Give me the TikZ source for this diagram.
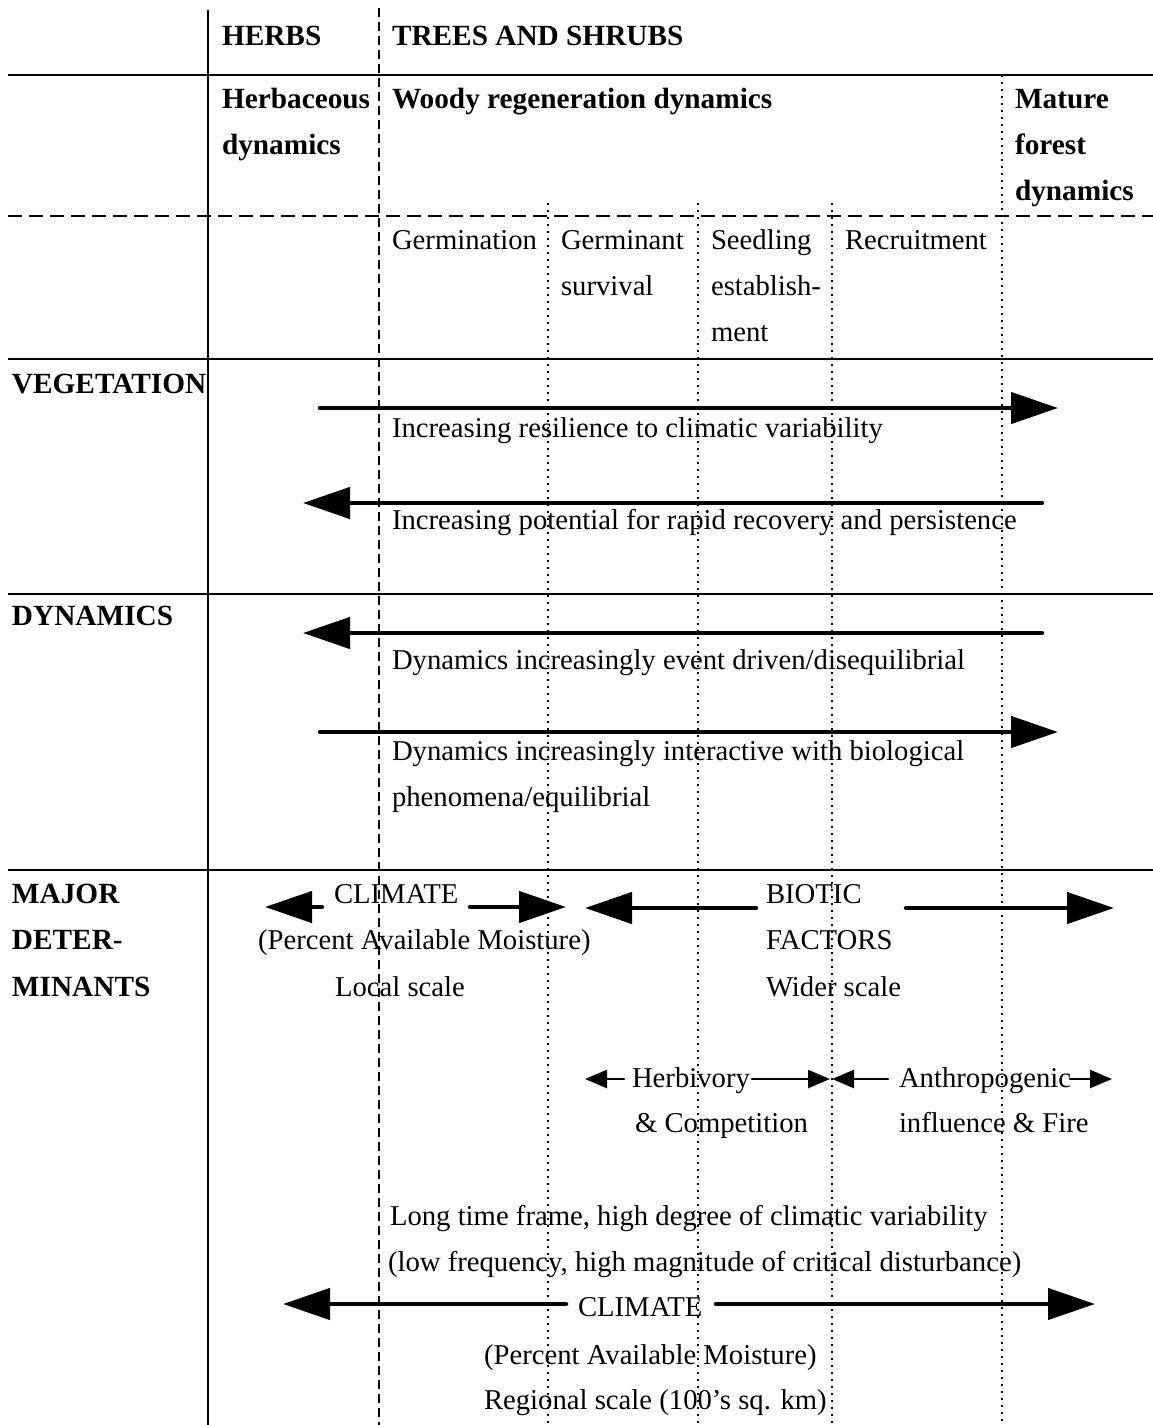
\documentclass[tikz,border=0pt]{standalone}
\usepackage{fontspec}
\setmainfont{Liberation Serif}
\usetikzlibrary{arrows.meta}
\begin{document}
\begin{tikzpicture}[x=1pt,y=-1pt,
  txt/.style={anchor=base west, inner sep=0pt, outer sep=0pt, font=\fontsize{28.7}{46}\selectfont},
  btxt/.style={txt, font=\fontsize{29.3}{46}\selectfont\bfseries},
  rule/.style={line width=2pt},
  dashrule/.style={line width=2pt, dash pattern=on 14pt off 7pt},
  colrule/.style={line width=1.8pt, dash pattern=on 9pt off 5pt},
  dotrule/.style={line width=2pt, dash pattern=on 2pt off 5pt},
  bigarrow/.style={line width=4.5pt, line cap=round, -{Triangle[length=47pt,width=31pt]}},
  smallarrow/.style={line width=2.5pt, line cap=round, -{Triangle[length=22pt,width=18pt]}},
]
\fill[white] (0,0) rectangle (1153,1425);
\useasboundingbox (0,0) rectangle (1153,1425);

% ---- table frame ----
\draw[rule] (208,10) -- (208,1425);
\draw[colrule] (379,8) -- (379,1425);
\draw[dotrule] (548,203) -- (548,1425);
\draw[dotrule] (698,203) -- (698,1425);
\draw[dotrule] (832,203) -- (832,1425);
\draw[dotrule] (1002,75) -- (1002,1425);
\draw[rule] (8,75) -- (1153,75);
\draw[dashrule] (8,216) -- (1153,216);
\draw[rule] (8,359) -- (1153,359);
\draw[rule] (8,594) -- (1153,594);
\draw[rule] (8,870) -- (1153,870);

% ---- headings ----
\node[btxt] (herbs) at (222,45) {HERBS};
\node[btxt] (trees) at (392,45) {TREES AND SHRUBS};
\node[btxt] (herbA) at (222,108) {Herbaceous};
\node[btxt] (herbB) at (222,154) {dynamics};
\node[btxt] (woody) at (392,108) {Woody regeneration dynamics};
\node[btxt] (matA) at (1015,108) {Mature};
\node[btxt] (matB) at (1015,154) {forest};
\node[btxt] (matC) at (1015,200) {dynamics};

\node[txt] (germ) at (392,249) {Germination};
\node[txt] (gsA) at (561,249) {Germinant};
\node[txt] (gsB) at (561,295) {survival};
\node[txt] (seA) at (711,249) {Seedling};
\node[txt] (seB) at (711,295) {establish-};
\node[txt] (seC) at (711,341) {ment};
\node[txt] (recr) at (845,249) {Recruitment};

% ---- vegetation ----
\node[btxt] (veg) at (12,393) {VEGETATION};
\coordinate (a1s) at (320,408); \coordinate (a1e) at (1058,408);
\draw[bigarrow] (a1s) -- (a1e);
\node[txt] (res) at (392,437) {Increasing resilience to climatic variability};
\coordinate (a2s) at (1042,503); \coordinate (a2e) at (303,503);
\draw[bigarrow] (a2s) -- (a2e);
\node[txt] (rec) at (392,529) {Increasing potential for rapid recovery and persistence};

% ---- dynamics ----
\node[btxt] (dyn) at (12,625) {DYNAMICS};
\coordinate (a3s) at (1042,633); \coordinate (a3e) at (303,633);
\draw[bigarrow] (a3s) -- (a3e);
\node[txt] (evt) at (392,669) {Dynamics increasingly event driven/disequilibrial};
\coordinate (a4s) at (320,732); \coordinate (a4e) at (1058,732);
\draw[bigarrow] (a4s) -- (a4e);
\node[txt] (intA) at (392,760) {Dynamics increasingly interactive with biological};
\node[txt] (intB) at (392,806) {phenomena/equilibrial};

% ---- major determinants ----
\node[btxt] (majA) at (12,903) {MAJOR};
\node[btxt] (majB) at (12,949) {DETER-};
\node[btxt] (majC) at (12,996) {MINANTS};

\node[txt] (climA) at (334,903) {CLIMATE};
\node[txt] (climB) at (258,949) {(Percent Available Moisture)};
\node[txt] (climC) at (335,996) {Local scale};
\coordinate (c1s) at (322,907); \coordinate (c1e) at (265,907);
\coordinate (c2s) at (470,907); \coordinate (c2e) at (566,907);
\draw[bigarrow] (c1s) -- (c1e);
\draw[bigarrow] (c2s) -- (c2e);

\node[txt] (bioA) at (766,903) {BIOTIC};
\node[txt] (bioB) at (766,949) {FACTORS};
\node[txt] (bioC) at (766,996) {Wider scale};
\coordinate (b1s) at (756,908); \coordinate (b1e) at (585,908);
\coordinate (b2s) at (906,908); \coordinate (b2e) at (1114,908);
\draw[bigarrow] (b1s) -- (b1e);
\draw[bigarrow] (b2s) -- (b2e);

\node[txt] (herbv) at (632,1087) {Herbivory};
\node[txt] (comp) at (635,1132) {\& Competition};
\node[txt] (anthA) at (899,1087) {Anthropogenic};
\node[txt] (anthB) at (899,1132) {influence \& Fire};
\coordinate (h1s) at (624,1079); \coordinate (h1e) at (585,1079);
\coordinate (h2s) at (752,1079); \coordinate (h2e) at (830,1079);
\coordinate (h3s) at (888,1079); \coordinate (h3e) at (832,1079);
\coordinate (h4s) at (1070,1079); \coordinate (h4e) at (1112,1079);
\draw[smallarrow] (h1s) -- (h1e);
\draw[smallarrow] (h2s) -- (h2e);
\draw[smallarrow] (h3s) -- (h3e);
\draw[smallarrow] (h4s) -- (h4e);

\node[txt] (longA) at (390,1225) {Long time frame, high degree of climatic variability};
\node[txt] (longB) at (388,1271) {(low frequency, high magnitude of critical disturbance)};
\node[txt] (climD) at (578,1316) {CLIMATE};
\coordinate (d1s) at (566,1304); \coordinate (d1e) at (283,1304);
\coordinate (d2s) at (716,1304); \coordinate (d2e) at (1095,1304);
\draw[bigarrow] (d1s) -- (d1e);
\draw[bigarrow] (d2s) -- (d2e);
\node[txt] (climE) at (484,1364) {(Percent Available Moisture)};
\node[txt] (climF) at (484,1409) {Regional scale (100’s sq. km)};
\end{tikzpicture}
\end{document}
